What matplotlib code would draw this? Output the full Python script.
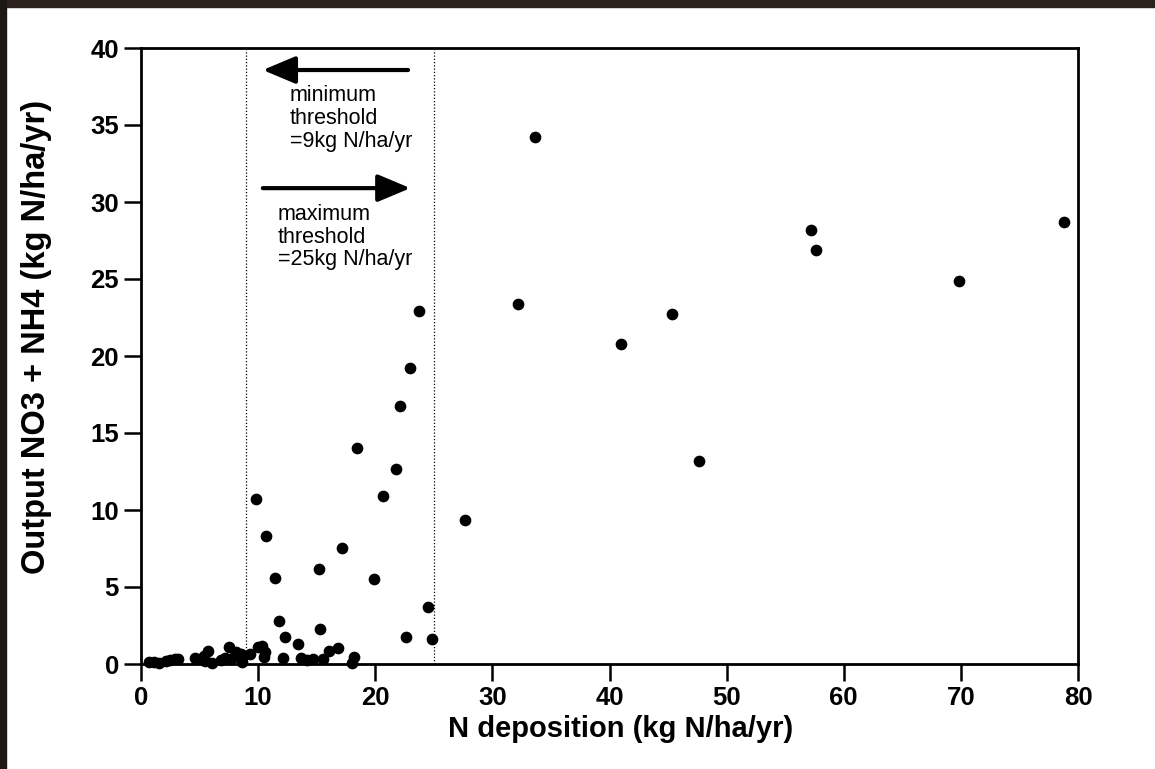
import numpy as np
import matplotlib
matplotlib.use('Agg')
from matplotlib import pyplot as plt
from matplotlib.patches import Rectangle

# N deposition (kg N/ha/yr) and output NO3+NH4 (kg N/ha/yr)
dep = [0.7, 1.1, 1.5, 2.1, 2.5, 2.9, 3.2,
       4.6, 5.1, 5.4, 5.7, 5.5, 6.1,
       6.8, 7.2, 7.5, 7.7, 8.0, 8.1, 8.5, 8.6, 8.6, 9.3,
       9.95, 10.33, 10.6, 10.5, 12.1, 13.7, 14.2, 14.7, 15.5, 18.2, 18.0,
       13.37, 16.78, 16.05, 12.28, 15.32, 11.8, 22.6, 24.83, 24.48,
       19.92, 15.18, 11.41, 17.19, 10.68, 9.81, 20.64, 21.74, 18.46,
       22.1, 22.97, 23.7,
       27.7, 32.2, 33.6, 41.0, 45.3, 47.6, 57.2, 57.6, 69.8, 78.8]
out = [0.10, 0.15, 0.05, 0.20, 0.25, 0.30, 0.30,
       0.37, 0.32, 0.50, 0.85, 0.20, 0.05,
       0.28, 0.37, 1.12, 0.32, 0.50, 0.76, 0.65, 0.15, 0.45, 0.68,
       1.11, 1.15, 0.78, 0.45, 0.42, 0.36, 0.23, 0.33, 0.30, 0.43, 0.05,
       1.29, 1.01, 0.83, 1.77, 2.28, 2.77, 1.75, 1.62, 3.68,
       5.50, 6.14, 5.60, 7.52, 8.34, 10.69, 10.88, 12.63, 14.04,
       16.75, 19.24, 22.9,
       9.35, 23.4, 34.2, 20.8, 22.7, 13.2, 28.2, 26.9, 24.9, 28.7]

thresholds = [9, 25]
xticks = [0, 10, 20, 30, 40, 50, 60, 70, 80]
yticks = [0, 5, 10, 15, 20, 25, 30, 35, 40]

fam = ['Liberation Sans', 'DejaVu Sans']

fig = plt.figure(figsize=(11.55, 7.69), dpi=100)
fig.patch.set_facecolor('white')
# dark scanner border along top and left edge
fig.patches.append(Rectangle((0, 1 - 7 / 769), 1, 7 / 769, transform=fig.transFigure,
                             color='#2b221d', zorder=0))
fig.patches.append(Rectangle((0, 0), 6 / 1155, 1, transform=fig.transFigure,
                             color='#1e1814', zorder=0))

ax = fig.add_axes([141 / 1155, 1 - 664 / 769, (1078 - 141) / 1155, (664 - 48) / 769])
ax.set_xlim(0, 80)
ax.set_ylim(0, 40)

for t in thresholds:
    ax.plot([t, t], [0, 40], color='black', lw=0.9, linestyle=(0, (1, 1.6)))

ax.scatter(dep, out, s=55, color='black', zorder=5, clip_on=False)

arrow = dict(arrowstyle='-|>,head_length=1.0,head_width=0.42', lw=3,
             color='black', mutation_scale=20, shrinkA=0, shrinkB=0)
ax.annotate('', xy=(10.4, 38.57), xytext=(22.8, 38.57), arrowprops=arrow)
ax.annotate('', xy=(23.0, 30.9), xytext=(10.4, 30.9), arrowprops=arrow)
# baseline of a multi-line text is the baseline of its last line
ax.text(12.7, 33.6, 'minimum\nthreshold\n=9kg N/ha/yr', family=fam, fontsize=15.5,
        va='baseline', ha='left', linespacing=1.1)
ax.text(11.7, 25.9, 'maximum\nthreshold\n=25kg N/ha/yr', family=fam, fontsize=15.5,
        va='baseline', ha='left', linespacing=1.1)

ax.set_xticks(xticks)
ax.set_yticks(yticks)
for lab in ax.get_xticklabels() + ax.get_yticklabels():
    lab.set_family(fam)
    lab.set_fontweight('bold')
    lab.set_fontsize(18.5)
ax.tick_params(direction='out', length=12, width=1.8, pad=4, colors='black')
for s in ax.spines.values():
    s.set_linewidth(2)

fig.text(621 / 1155, 1 - 729 / 769, 'N deposition (kg N/ha/yr)', family=fam,
         fontweight='bold', fontsize=21, ha='center', va='center')
fig.text(37 / 1155, 1 - 337 / 769, 'Output NO3 + NH4 (kg N/ha/yr)', family=fam,
         fontweight='bold', fontsize=23.5, ha='center', va='center', rotation=90)

plt.savefig('out.png', dpi=100)
